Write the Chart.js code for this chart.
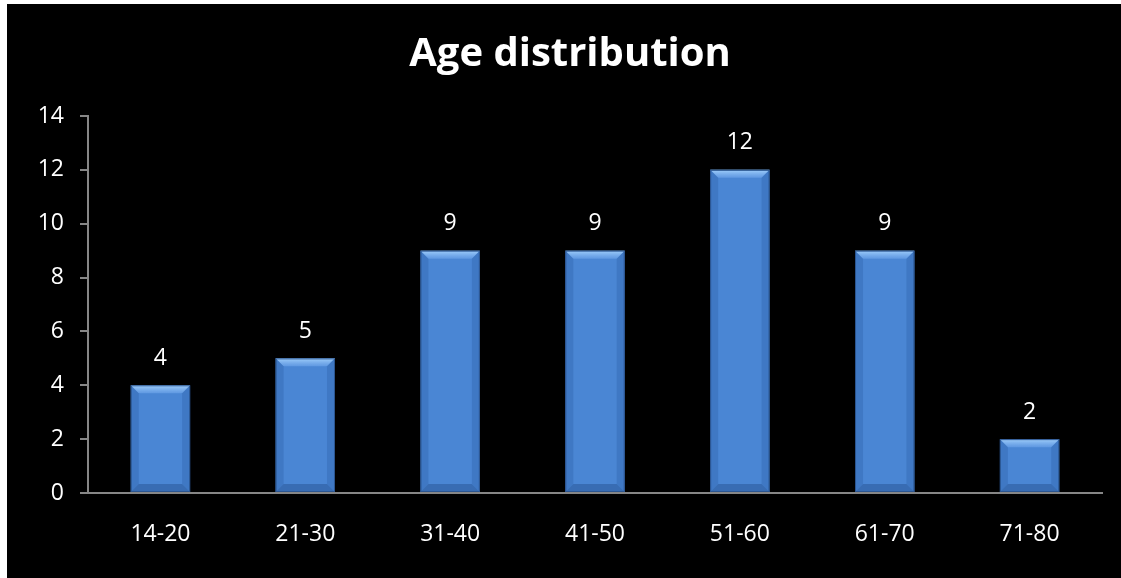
<!DOCTYPE html>
<html>
<head>
<meta charset="utf-8">
<script src="https://cdn.jsdelivr.net/npm/chart.js@4"></script>
<style>
  html, body { margin: 0; padding: 0; background: #fff; }
  #wrap { position: absolute; left: 7px; top: 4px; width: 1114px; height: 574px; background: #000; }
</style>
</head>
<body>
<div id="wrap"><canvas id="age-chart"></canvas></div>
<script>
// dados do gráfico
const categories = ['14-20', '21-30', '31-40', '41-50', '51-60', '61-70', '71-80'];
const counts = [4, 5, 9, 9, 12, 9, 2];
const yTicks = [0, 2, 4, 6, 8, 10, 12, 14];

const FONT = '"Open Sans", Lato, sans-serif';

// bisel das barras + rótulos de valor
const bevelPlugin = {
    id: 'bevel',
    afterDatasetsDraw(chart) {
        const ctx = chart.ctx;
        const meta = chart.getDatasetMeta(0);
        meta.data.forEach(function(bar, i) {
            const l = bar.x - bar.width / 2, r = bar.x + bar.width / 2;
            const t = bar.y, b = bar.base;
            const d = Math.min(8, (b - t) / 3);
            ctx.save();
            // topo claro
            const gt = ctx.createLinearGradient(0, t, 0, t + d);
            gt.addColorStop(0, 'rgba(170,215,255,0.9)');
            gt.addColorStop(1, 'rgba(110,165,235,0.6)');
            ctx.fillStyle = gt;
            ctx.beginPath();
            ctx.moveTo(l, t); ctx.lineTo(r, t); ctx.lineTo(r - d, t + d); ctx.lineTo(l + d, t + d);
            ctx.closePath(); ctx.fill();
            // base escura
            ctx.fillStyle = 'rgba(30,70,130,0.4)';
            ctx.beginPath();
            ctx.moveTo(l, b); ctx.lineTo(r, b); ctx.lineTo(r - d, b - d); ctx.lineTo(l + d, b - d);
            ctx.closePath(); ctx.fill();
            // laterais
            ctx.fillStyle = 'rgba(40,90,160,0.3)';
            ctx.beginPath();
            ctx.moveTo(l, t); ctx.lineTo(l + d, t + d); ctx.lineTo(l + d, b - d); ctx.lineTo(l, b);
            ctx.closePath(); ctx.fill();
            ctx.beginPath();
            ctx.moveTo(r, t); ctx.lineTo(r - d, t + d); ctx.lineTo(r - d, b - d); ctx.lineTo(r, b);
            ctx.closePath(); ctx.fill();
            // contorno
            ctx.strokeStyle = '#2b5590';
            ctx.lineWidth = 1;
            ctx.strokeRect(l + 0.5, t + 0.5, bar.width - 1, b - t - 1);
            // rótulo
            ctx.fillStyle = '#ffffff';
            ctx.font = '23px ' + FONT;
            ctx.textAlign = 'center';
            ctx.textBaseline = 'middle';
            ctx.fillText(String(counts[i]), bar.x, t - 27);
            ctx.restore();
        });
    }
};

const ctx = document.getElementById('age-chart').getContext('2d');
const chart = new Chart(ctx, {
    type: 'bar',
    data: {
        labels: categories,
        datasets: [{
            data: counts,
            backgroundColor: '#4a86d4',
            borderWidth: 0,
            barPercentage: 0.82,
            categoryPercentage: 0.5
        }]
    },
    options: {
        responsive: true,
        maintainAspectRatio: false,
        animation: false,
        layout: { padding: { right: 19, left: 31, bottom: 0 } },
        plugins: {
            legend: { display: false },
            tooltip: { enabled: false },
            title: {
                display: true,
                text: 'Age distribution',
                color: '#ffffff',
                font: { family: FONT, size: 40, weight: 'bold' },
                padding: { top: 27, bottom: 37 }
            }
        },
        scales: {
            x: {
                grid: { display: false, drawTicks: false },
                border: { display: true, color: '#868686', width: 2 },
                ticks: { color: '#ffffff', font: { family: FONT, size: 23 }, padding: 28 },
                afterFit: function(s) { s.height = 85; }
            },
            y: {
                min: 0,
                max: 14,
                afterBuildTicks: function(s) { s.ticks = yTicks.map(v => ({ value: v })); },
                grid: { drawOnChartArea: false, drawTicks: true, tickLength: 8, color: '#868686', lineWidth: 2 },
                border: { display: true, color: '#868686', width: 2 },
                ticks: { color: '#ffffff', font: { family: FONT, size: 23 }, padding: 16 },
                afterFit: function(s) { s.width = 50; }
            }
        }
    },
    plugins: [bevelPlugin]
});
</script>
</body>
</html>
